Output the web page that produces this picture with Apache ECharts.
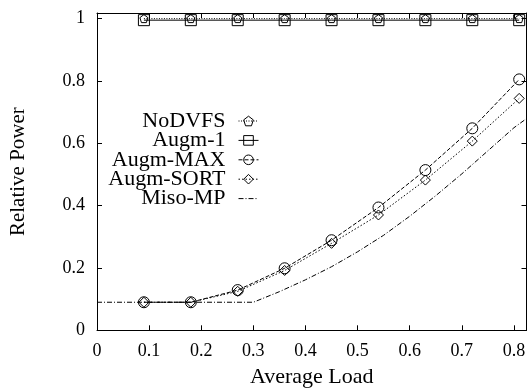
<!DOCTYPE html>
<html><head><meta charset="utf-8">
<script src="https://cdn.jsdelivr.net/npm/echarts@6/dist/echarts.min.js"></script>
<style>html,body{margin:0;padding:0;background:#fff;}#c{width:529px;height:390px;}</style>
</head><body><div id="c"></div>
<script>
const loads = [0.09, 0.18, 0.27, 0.36, 0.45, 0.54, 0.63, 0.72, 0.81];
const noDVFS = [1, 1, 1, 1, 1, 1, 1, 1, 1];
const augm1 = [0.995, 0.995, 0.995, 0.995, 0.995, 0.995, 0.995, 0.995, 0.995];
const augmMax = [0.09, 0.09, 0.129, 0.199, 0.289, 0.394, 0.514, 0.648, 0.805];
const augmSort = [0.09, 0.09, 0.125, 0.192, 0.279, 0.37, 0.482, 0.607, 0.744];
const misoLoads = [0, 0.3, 0.35, 0.4, 0.45, 0.5, 0.55, 0.6, 0.65, 0.7, 0.75, 0.8, 0.823];
const misoMP = [0.09, 0.09, 0.124, 0.162, 0.204, 0.252, 0.305, 0.366, 0.432, 0.502, 0.576, 0.65, 0.678];
const seriesNames = ['NoDVFS', 'Augm-1', 'Augm-MAX', 'Augm-SORT', 'Miso-MP'];
const xTicks = [0, 0.1, 0.2, 0.3, 0.4, 0.5, 0.6, 0.7, 0.8];
const yTicks = [0, 0.2, 0.4, 0.6, 0.8, 1];

const FONT = 'Liberation Serif';
const pentagon = 'path://M0,-1 L0.951,-0.309 L0.588,0.809 L-0.588,0.809 L-0.951,-0.309 Z';
const pair = (xs, ys) => xs.map((x, i) => [x, ys[i]]);
const fmtX = v => xTicks.some(t => Math.abs(t - v) < 1e-6) ? String(Math.round(v * 10) / 10) : '';
const fmtY = v => yTicks.some(t => Math.abs(t - v) < 1e-6) ? String(Math.round(v * 10) / 10) : '';

const baseAxis = {
  axisLine: { show: true, onZero: false, lineStyle: { color: '#000', width: 1 } },
  axisTick: { show: true, inside: true, length: 5, lineStyle: { color: '#000', width: 1 } },
  splitLine: { show: false }
};

function mkSeries(name, data, symbol, size, dash, z, hidden) {
  return {
    name, type: 'line', data, symbol, symbolSize: size, showSymbol: !hidden,
    z: z, animation: false,
    lineStyle: { color: '#000', width: 1, type: dash },
    itemStyle: { color: 'transparent', borderColor: hidden ? 'transparent' : '#000', borderWidth: 1 },
    emphasis: { disabled: true }
  };
}

const chart = echarts.init(document.getElementById('c'), null, { renderer: 'canvas' });
chart.setOption({
  animation: false,
  backgroundColor: '#fff',
  textStyle: { fontFamily: FONT },
  grid: { left: 97, right: 2.5, top: 13, bottom: 59.7, containLabel: false, outerBoundsMode: 'none' },
  xAxis: [
    Object.assign({}, baseAxis, {
      type: 'value', min: 0, max: 0.824, interval: 0.1, position: 'bottom',
      name: 'Average Load', nameLocation: 'middle', nameGap: 36,
      nameTextStyle: { fontFamily: FONT, fontSize: 22, color: '#000' },
      axisLabel: { margin: 12, fontFamily: FONT, fontSize: 18, color: '#000', formatter: fmtX, showMaxLabel: false }
    }),
    Object.assign({}, baseAxis, {
      type: 'value', min: 0, max: 0.824, interval: 0.1, position: 'top',
      axisLabel: { show: false }
    })
  ],
  yAxis: [
    Object.assign({}, baseAxis, {
      type: 'value', min: 0, max: 1.018, interval: 0.2, position: 'left',
      name: 'Relative Power', nameLocation: 'middle', nameGap: 68, nameRotate: 90,
      nameTextStyle: { fontFamily: FONT, fontSize: 21, color: '#000' },
      axisLabel: { margin: 12, fontFamily: FONT, fontSize: 18, color: '#000', formatter: fmtY, showMaxLabel: false }
    }),
    Object.assign({}, baseAxis, {
      type: 'value', min: 0, max: 1.018, interval: 0.2, position: 'right',
      axisLabel: { show: false }
    })
  ],
  legend: seriesNames.map((n, i) => ({
    data: [n], right: 270, top: 110 + i * 19.4, orient: 'horizontal', align: 'right',
    itemWidth: 20, itemHeight: 12, itemGap: 0, padding: 0, selectedMode: false,
    itemStyle: { borderWidth: 1 },
    lineStyle: { width: 1 },
    textStyle: { fontFamily: FONT, fontSize: 22, color: '#000', padding: [0, 8, 0, 0] }
  })),
  series: [
    mkSeries('NoDVFS', pair(loads, noDVFS), pentagon, 8, [1, 1.5], 5, false),
    mkSeries('Augm-1', pair(loads, augm1), 'rect', 11, 'solid', 4, false),
    mkSeries('Augm-MAX', pair(loads, augmMax), 'circle', 11, [4, 2], 3, false),
    mkSeries('Augm-SORT', pair(loads, augmSort), 'diamond', 10, [1.5, 2], 3, false),
    mkSeries('Miso-MP', pair(misoLoads, misoMP), 'circle', 0, [5, 2, 1, 2], 2, true)
  ]
});
</script></body></html>
